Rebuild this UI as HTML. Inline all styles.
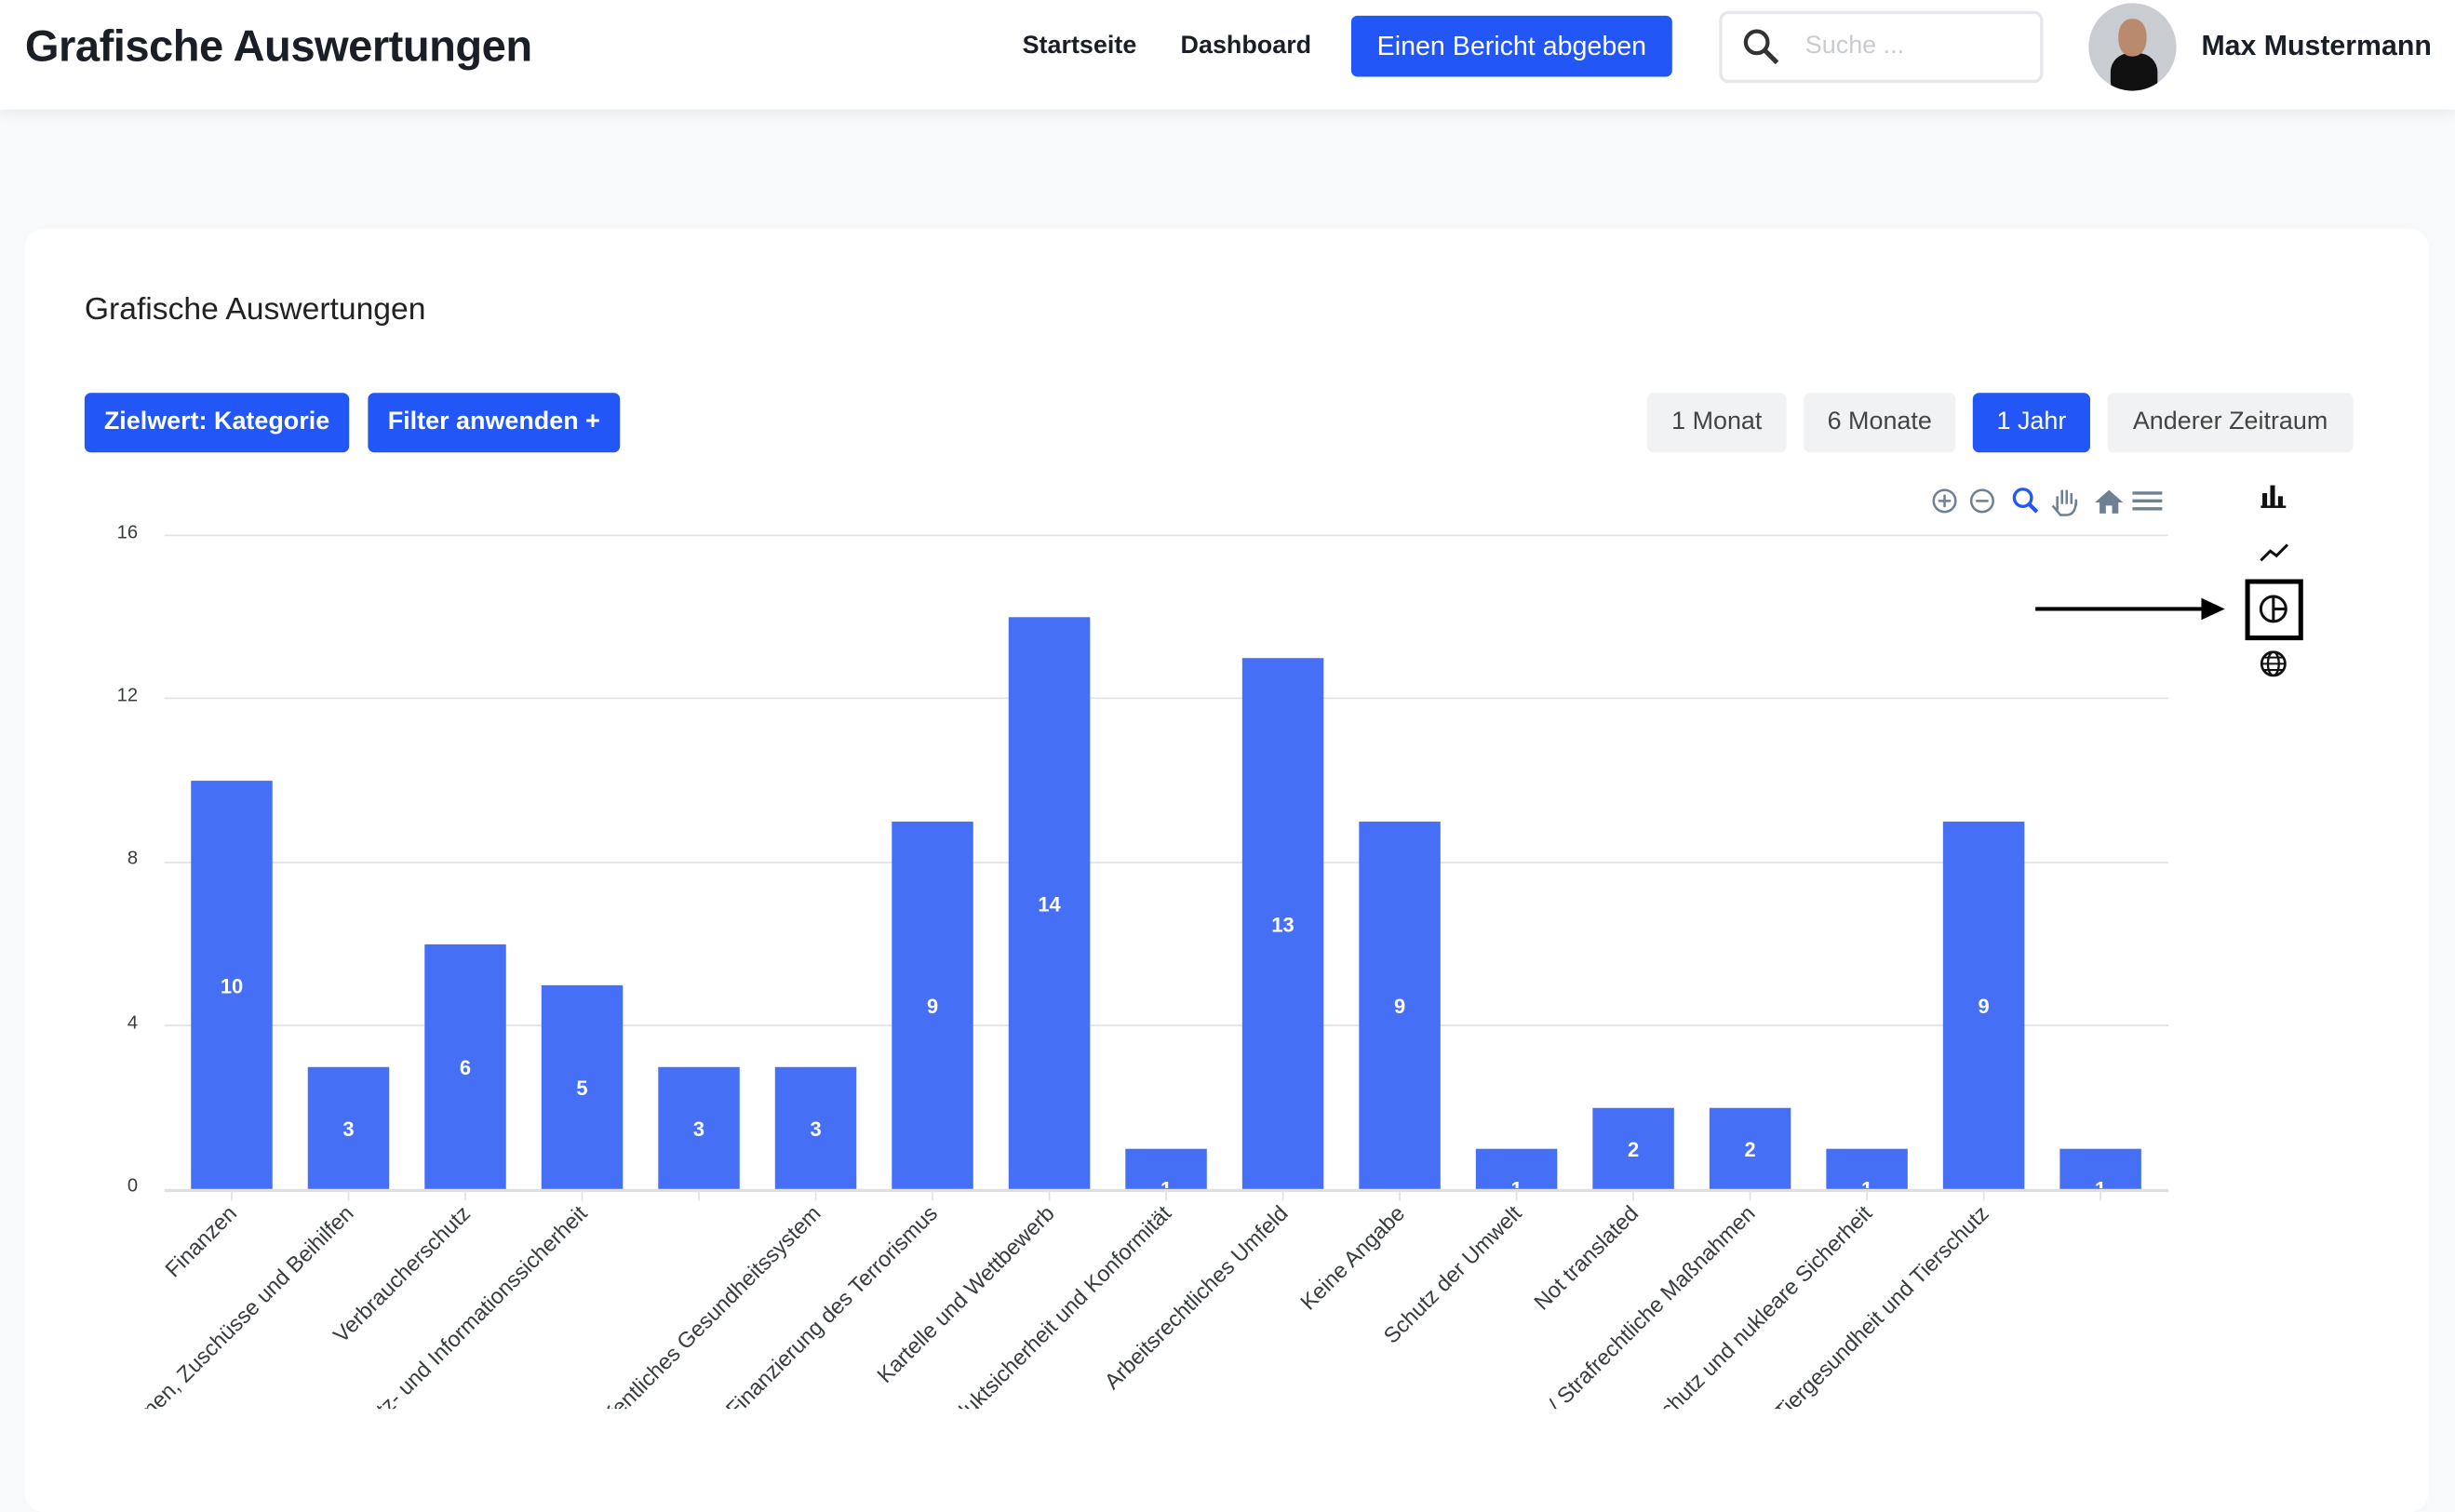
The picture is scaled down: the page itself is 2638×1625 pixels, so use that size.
<!DOCTYPE html>
<html><head><meta charset="utf-8">
<style>
html,body{margin:0;padding:0;width:2638px;height:1588px;overflow:hidden;background:#f8f9fb;font-family:"Liberation Sans",sans-serif;}
#w{position:absolute;left:0;top:0;width:1568px;height:944px;transform:scale(1.68240);transform-origin:0 0;}
.a{position:absolute;}
.hdr{left:0;top:0;width:1568px;height:70px;background:#fff;box-shadow:0 3px 8px rgba(0,0,0,0.06);}
.btn{position:absolute;height:38px;line-height:38px;border-radius:4px;font-size:16px;text-align:center;}
.b{background:#2356f6;color:#fff;font-weight:bold;}
.g{background:#f1f2f3;color:#444;}
</style></head><body>
<div id="w">
<div class="a hdr"></div>
<div class="a" style="left:16px;top:14px;font-size:28px;font-weight:bold;color:#1a1e27;letter-spacing:-0.3px;">Grafische Auswertungen</div>
<div class="a" style="left:653px;top:21px;font-size:16px;font-weight:bold;color:#1a1e27;">Startseite</div>
<div class="a" style="left:754px;top:21px;font-size:16px;font-weight:bold;color:#1a1e27;">Dashboard</div>
<div class="btn b" style="left:863px;top:10px;width:205px;height:39px;line-height:39px;font-weight:normal;font-size:17px;">Einen Bericht abgeben</div>
<div class="a" style="left:1098px;top:7px;width:203px;height:42px;border:2px solid #e5e7eb;border-radius:6px;background:#fff;"></div>
<svg class="a" style="left:1112px;top:17px" width="26" height="26" viewBox="0 0 26 26"><circle cx="10" cy="10" r="7" fill="none" stroke="#333" stroke-width="2.5"/><line x1="15" y1="15" x2="23" y2="23" stroke="#333" stroke-width="3"/></svg>
<div class="a" style="left:1153px;top:21px;font-size:16px;color:#c8cbd0;">Suche ...</div>
<div class="a" style="left:1334px;top:2px;width:56px;height:56px;border-radius:50%;background:#c9ccd1;overflow:hidden;"><div class="a" style="left:14px;top:32px;width:30px;height:30px;border-radius:40%;background:#111;"></div><div class="a" style="left:19px;top:10px;width:18px;height:24px;border-radius:45%;background:#b98a6d;"></div></div>
<div class="a" style="left:1406px;top:19px;font-size:18px;color:#1a1e27;font-weight:bold;">Max Mustermann</div>

<div class="a" style="left:16px;top:146px;width:1535px;height:820px;background:#fff;border-radius:12px;"></div>
<div class="a" style="left:54px;top:187px;font-size:20px;color:#222;">Grafische Auswertungen</div>
<div class="btn b" style="left:54px;top:251px;width:169px;">Zielwert: Kategorie</div>
<div class="btn b" style="left:235px;top:251px;width:161px;">Filter anwenden +</div>
<div class="btn g" style="left:1052px;top:251px;width:89px;">1 Monat</div>
<div class="btn g" style="left:1152px;top:251px;width:97px;">6 Monate</div>
<div class="btn b" style="left:1260px;top:251px;width:75px;font-weight:normal;">1 Jahr</div>
<div class="btn g" style="left:1346px;top:251px;width:157px;">Anderer Zeitraum</div>

<svg class="a" style="left:0;top:0" width="1568" height="944" viewBox="0 0 1568 944">
<defs><clipPath id="c"><rect x="0" y="760" width="1568" height="140"/></clipPath><clipPath id="c2"><rect x="0" y="0" width="1568" height="759"/></clipPath></defs>
<g font-size="12" fill="#373d3f" text-anchor="end">
<text x="88" y="344">16</text><text x="88" y="448">12</text><text x="88" y="552">8</text><text x="88" y="657">4</text><text x="88" y="761">0</text></g>
<g stroke="#e3e3e3" stroke-width="1"><line x1="105" y1="342" x2="1385" y2="342"/><line x1="105" y1="446" x2="1385" y2="446"/><line x1="105" y1="551" x2="1385" y2="551"/><line x1="105" y1="655" x2="1385" y2="655"/></g>
<g id="bars"></g>
<g id="vals" clip-path="url(#c2)" font-size="13" font-weight="bold" fill="#fff" text-anchor="middle"></g>
<line x1="105" y1="760.5" x2="1385" y2="760.5" stroke="#e0e0e0" stroke-width="2"/>
<g id="ticks" stroke="#e0e0e0"></g>
<g id="lbl" clip-path="url(#c)" font-size="14" fill="#373d3f" text-anchor="end"></g>
<g fill="none" stroke="#6e8192" stroke-width="1.5">
<circle cx="1242" cy="320" r="7"/><line x1="1238" y1="320" x2="1246" y2="320"/><line x1="1242" y1="316" x2="1242" y2="324"/>
<circle cx="1266" cy="320" r="7"/><line x1="1262" y1="320" x2="1270" y2="320"/>
<circle cx="1292" cy="318" r="5.5" stroke="#2356f6" stroke-width="2"/><line x1="1296" y1="322" x2="1301" y2="327" stroke="#2356f6" stroke-width="2.5"/>
<path d="M1314 326 v-9 M1317 322 v-9 M1320 322 v-9 M1323 322 v-7 M1326 323 v-4 q0 10 -6 10 h-4 l-5 -6"/>
</g>
<path d="M1338 321 l9 -8 l9 8 h-3 v7 h-4 v-5 h-4 v5 h-4 v-7z" fill="#6e8192"/>
<g stroke="#6e8192" stroke-width="2"><line x1="1362" y1="315" x2="1381" y2="315"/><line x1="1362" y1="320" x2="1381" y2="320"/><line x1="1362" y1="325" x2="1381" y2="325"/></g>
<g fill="#111"><rect x="1445" y="315" width="3" height="9"/><rect x="1450" y="310" width="3" height="14"/><rect x="1455" y="317" width="3" height="7"/><rect x="1444" y="323" width="16" height="1.5"/></g>
<polyline points="1444,358 1450,352 1454,355 1461,348" fill="none" stroke="#111" stroke-width="1.8"/>
<rect x="1435.5" y="371.5" width="34" height="36" fill="none" stroke="#000" stroke-width="3"/>
<circle cx="1452" cy="389" r="8" fill="none" stroke="#111" stroke-width="1.8"/><path d="M1452 381 v16 M1452 389 h8" stroke="#111" stroke-width="1.8"/>
<circle cx="1452" cy="424" r="7.5" fill="none" stroke="#111" stroke-width="1.6"/><ellipse cx="1452" cy="424" rx="3.5" ry="7.5" fill="none" stroke="#111" stroke-width="1.4"/><path d="M1444.5 424 h15 M1446 420 h12 M1446 428 h12" stroke="#111" stroke-width="1.2"/>
<line x1="1300" y1="389" x2="1408" y2="389" stroke="#000" stroke-width="2.5"/><polygon points="1406,382 1421,389 1406,396" fill="#000"/>
</svg>
</div>
<script>
var v=[10,3,6,5,3,3,9,14,1,13,9,1,2,2,1,9,1];
var L=["Finanzen","Förderprogrammen, Zuschüsse und Beihilfen","Verbraucherschutz","Datenschutz- und Informationssicherheit","","Öffentliches Gesundheitssystem","Finanzierung des Terrorismus","Kartelle und Wettbewerb","Produktsicherheit und Konformität","Arbeitsrechtliches Umfeld","Keine Angabe","Schutz der Umwelt","Not translated","Verwaltungs- / Strafrechtliche Maßnahmen","Strahlenschutz und nukleare Sicherheit","Tiergesundheit und Tierschutz",""];
var ns="http://www.w3.org/2000/svg",b=document.getElementById("bars"),t=document.getElementById("ticks"),l=document.getElementById("lbl"),vl=document.getElementById("vals");
function el(n,a,p,tx){var e=document.createElementNS(ns,n);for(var k in a)e.setAttribute(k,a[k]);if(tx)e.textContent=tx;p.appendChild(e);}
for(var i=0;i<17;i++){var cx=148+i*74.6,h=v[i]*26.125,y=760-h;
el("rect",{x:cx-26,y:y,width:52,height:h,fill:"#4570f6"},b);
el("line",{x1:cx,y1:761,x2:cx,y2:767},t);
el("text",{x:cx+4,y:776,transform:"rotate(-45 "+(cx+4)+" 776)"},l,L[i]);
el("text",{x:cx,y:(v[i]==1?764:y+h/2+5)},vl,String(v[i]));}
</script>
</body></html>
